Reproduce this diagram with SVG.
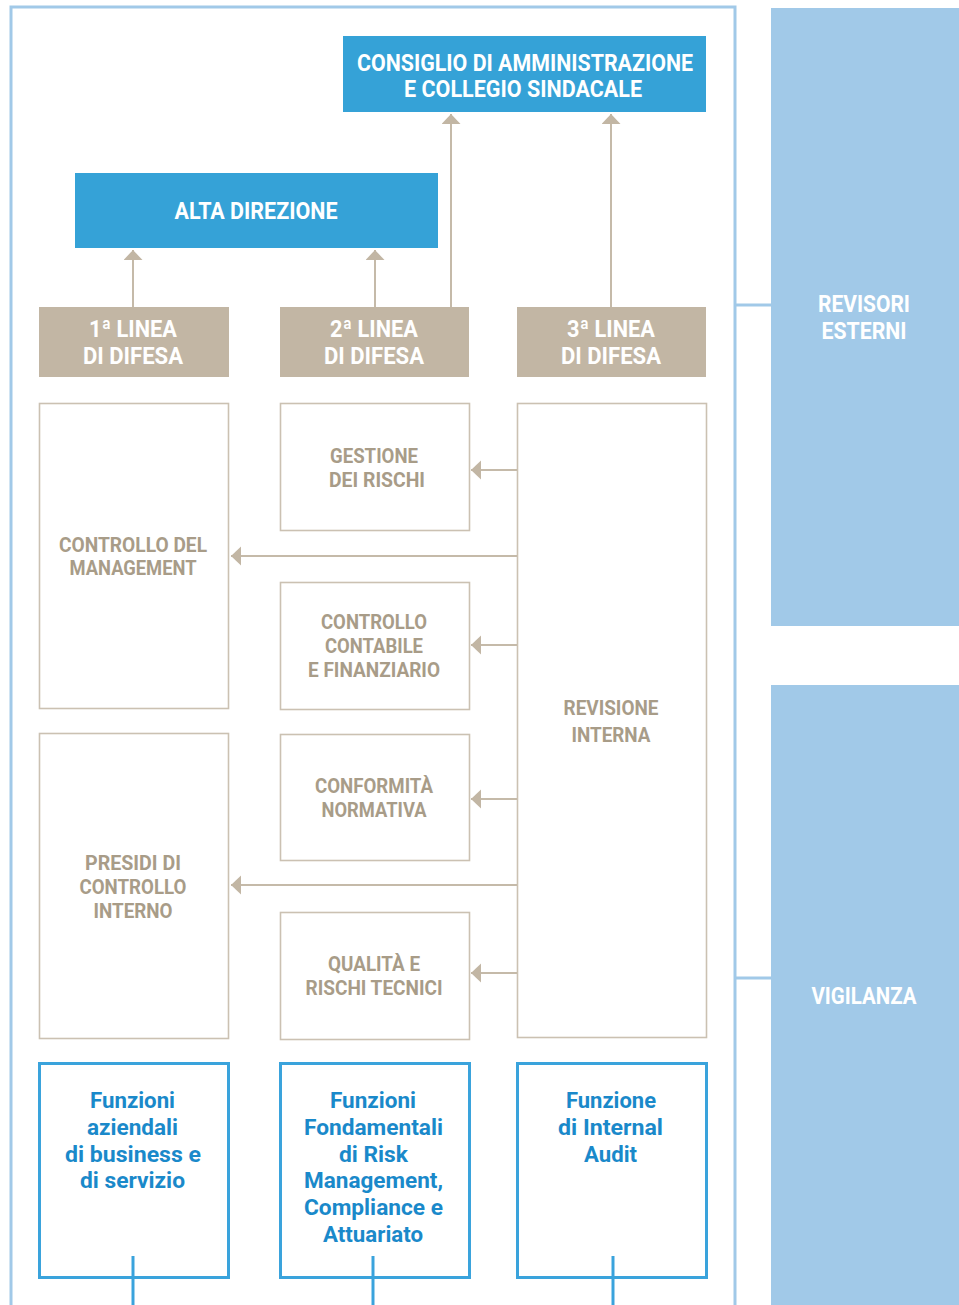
<svg xmlns="http://www.w3.org/2000/svg" width="959" height="1305" viewBox="0 0 959 1305">
<style>
text{font-family:Roboto,"Liberation Sans",sans-serif;font-weight:bold;text-anchor:middle}
.w24{fill:#ffffff;font-size:24px}
.b21{fill:#a89c88;font-size:21px}
.f22{fill:#1a89ca;font-size:22px}
.blue{fill:#35a2d7}
.pale{fill:#a1c9e8}
.tan{fill:#c2b6a4}
.tbox{fill:#ffffff;stroke:#cbc1b2;stroke-width:1.6}
.bbox{fill:#ffffff;stroke:#3aa3dc;stroke-width:3}
.ln{stroke:#c5baa9;stroke-width:2;fill:none}
.fr{stroke:#a1c9e8;stroke-width:3;fill:none}
.bl{stroke:#3aa3dc;stroke-width:3;fill:none}
</style>
<defs>
<marker id="ah" markerUnits="userSpaceOnUse" markerWidth="12" markerHeight="20" refX="10" refY="9.5" orient="auto">
<path d="M0,0 L10,9.5 L0,19 Z" fill="#c2b6a4"/>
</marker>
</defs>
<rect width="959" height="1305" fill="#ffffff"/>

<g id="frame">
<path class="fr" d="M11,1305 V7 H735 V1305"/>
</g>

<g id="revisori">
<rect class="pale" x="771" y="8" width="188" height="618"/>
<text class="w24" x="864" y="312" textLength="92" lengthAdjust="spacingAndGlyphs">REVISORI</text>
<text class="w24" x="864" y="339" textLength="85" lengthAdjust="spacingAndGlyphs">ESTERNI</text>
</g>
<g id="vigilanza">
<rect class="pale" x="771" y="685" width="188" height="620"/>
<text class="w24" x="864" y="1004" textLength="105" lengthAdjust="spacingAndGlyphs">VIGILANZA</text>
</g>

<g id="consiglio">
<rect class="blue" x="343" y="36" width="363" height="76"/>
<text class="w24" x="525" y="71" textLength="336" lengthAdjust="spacingAndGlyphs">CONSIGLIO DI AMMINISTRAZIONE</text>
<text class="w24" x="523" y="97" textLength="238" lengthAdjust="spacingAndGlyphs">E COLLEGIO SINDACALE</text>
</g>
<g id="alta-direzione">
<rect class="blue" x="75" y="173" width="363" height="75"/>
<text class="w24" x="256" y="219" textLength="163" lengthAdjust="spacingAndGlyphs">ALTA DIREZIONE</text>
</g>

<g id="linea1">
<rect class="tan" x="39" y="307" width="190" height="70"/>
<text class="w24" x="133" y="337" textLength="88" lengthAdjust="spacingAndGlyphs">1ª LINEA</text>
<text class="w24" x="133" y="364" textLength="100" lengthAdjust="spacingAndGlyphs">DI DIFESA</text>
</g>
<g id="linea2">
<rect class="tan" x="280" y="307" width="189" height="70"/>
<text class="w24" x="374" y="337" textLength="88" lengthAdjust="spacingAndGlyphs">2ª LINEA</text>
<text class="w24" x="374" y="364" textLength="100" lengthAdjust="spacingAndGlyphs">DI DIFESA</text>
</g>
<g id="linea3">
<rect class="tan" x="517" y="307" width="189" height="70"/>
<text class="w24" x="611" y="337" textLength="88" lengthAdjust="spacingAndGlyphs">3ª LINEA</text>
<text class="w24" x="611" y="364" textLength="100" lengthAdjust="spacingAndGlyphs">DI DIFESA</text>
</g>

<g id="controllo-management">
<rect class="tbox" x="39.5" y="403.5" width="189" height="305"/>
<text class="b21" x="133" y="552" textLength="148" lengthAdjust="spacingAndGlyphs">CONTROLLO DEL</text>
<text class="b21" x="133" y="575" textLength="127" lengthAdjust="spacingAndGlyphs">MANAGEMENT</text>
</g>
<g id="presidi">
<rect class="tbox" x="39.5" y="733.5" width="189" height="305"/>
<text class="b21" x="133" y="870" textLength="96" lengthAdjust="spacingAndGlyphs">PRESIDI DI</text>
<text class="b21" x="133" y="894" textLength="107" lengthAdjust="spacingAndGlyphs">CONTROLLO</text>
<text class="b21" x="133" y="918" textLength="79" lengthAdjust="spacingAndGlyphs">INTERNO</text>
</g>

<g id="gestione-rischi">
<rect class="tbox" x="280.5" y="403.5" width="189" height="127"/>
<text class="b21" x="374" y="463" textLength="88" lengthAdjust="spacingAndGlyphs">GESTIONE</text>
<text class="b21" x="377" y="487" textLength="96" lengthAdjust="spacingAndGlyphs">DEI RISCHI</text>
</g>
<g id="controllo-contabile">
<rect class="tbox" x="280.5" y="582.5" width="189" height="127"/>
<text class="b21" x="374" y="629" textLength="106" lengthAdjust="spacingAndGlyphs">CONTROLLO</text>
<text class="b21" x="374" y="653" textLength="98" lengthAdjust="spacingAndGlyphs">CONTABILE</text>
<text class="b21" x="374" y="677" textLength="132" lengthAdjust="spacingAndGlyphs">E FINANZIARIO</text>
</g>
<g id="conformita">
<rect class="tbox" x="280.5" y="734.5" width="189" height="126"/>
<text class="b21" x="374" y="793" textLength="118" lengthAdjust="spacingAndGlyphs">CONFORMITÀ</text>
<text class="b21" x="374" y="817" textLength="105" lengthAdjust="spacingAndGlyphs">NORMATIVA</text>
</g>
<g id="qualita">
<rect class="tbox" x="280.5" y="912.5" width="189" height="127"/>
<text class="b21" x="374" y="971" textLength="92" lengthAdjust="spacingAndGlyphs">QUALITÀ E</text>
<text class="b21" x="374" y="995" textLength="137" lengthAdjust="spacingAndGlyphs">RISCHI TECNICI</text>
</g>

<g id="revisione-interna">
<rect class="tbox" x="517.5" y="403.5" width="189" height="634"/>
<text class="b21" x="611" y="715" textLength="95" lengthAdjust="spacingAndGlyphs">REVISIONE</text>
<text class="b21" x="611" y="742" textLength="79" lengthAdjust="spacingAndGlyphs">INTERNA</text>
</g>

<g id="funzioni-business">
<rect class="bbox" x="39.5" y="1063.5" width="189" height="214"/>
<text class="f22" x="132.5" y="1108" textLength="85" lengthAdjust="spacingAndGlyphs">Funzioni</text>
<text class="f22" x="132.5" y="1135" textLength="91" lengthAdjust="spacingAndGlyphs">aziendali</text>
<text class="f22" x="133" y="1162" textLength="136" lengthAdjust="spacingAndGlyphs">di business e</text>
<text class="f22" x="132.5" y="1188" textLength="105" lengthAdjust="spacingAndGlyphs">di servizio</text>
</g>
<g id="funzioni-fondamentali">
<rect class="bbox" x="280.5" y="1063.5" width="189" height="214"/>
<text class="f22" x="373" y="1108" textLength="86" lengthAdjust="spacingAndGlyphs">Funzioni</text>
<text class="f22" x="373.5" y="1135" textLength="139" lengthAdjust="spacingAndGlyphs">Fondamentali</text>
<text class="f22" x="373.5" y="1162" textLength="69" lengthAdjust="spacingAndGlyphs">di Risk</text>
<text class="f22" x="373.5" y="1188" textLength="139" lengthAdjust="spacingAndGlyphs">Management,</text>
<text class="f22" x="373.5" y="1215" textLength="139" lengthAdjust="spacingAndGlyphs">Compliance e</text>
<text class="f22" x="373" y="1242" textLength="100" lengthAdjust="spacingAndGlyphs">Attuariato</text>
</g>
<g id="funzione-audit">
<rect class="bbox" x="517.5" y="1063.5" width="189" height="214"/>
<text class="f22" x="611" y="1108" textLength="90" lengthAdjust="spacingAndGlyphs">Funzione</text>
<text class="f22" x="610.5" y="1135" textLength="105" lengthAdjust="spacingAndGlyphs">di Internal</text>
<text class="f22" x="610.5" y="1162" textLength="53" lengthAdjust="spacingAndGlyphs">Audit</text>
</g>

<g id="connectors">
<path class="fr" d="M735,305 H771"/>
<path class="fr" d="M735,978 H771"/>
<path class="ln" d="M133,307 V250" marker-end="url(#ah)"/>
<path class="ln" d="M375,307 V250" marker-end="url(#ah)"/>
<path class="ln" d="M451,307 V114" marker-end="url(#ah)"/>
<path class="ln" d="M611,307 V114" marker-end="url(#ah)"/>
<path class="ln" d="M517,470 H471" marker-end="url(#ah)"/>
<path class="ln" d="M517,556 H231" marker-end="url(#ah)"/>
<path class="ln" d="M517,645 H471" marker-end="url(#ah)"/>
<path class="ln" d="M517,799 H471" marker-end="url(#ah)"/>
<path class="ln" d="M517,885 H231" marker-end="url(#ah)"/>
<path class="ln" d="M517,973 H471" marker-end="url(#ah)"/>
<path class="bl" d="M133,1256 V1305"/>
<path class="bl" d="M373,1256 V1305"/>
<path class="bl" d="M613,1256 V1305"/>
</g>
</svg>
